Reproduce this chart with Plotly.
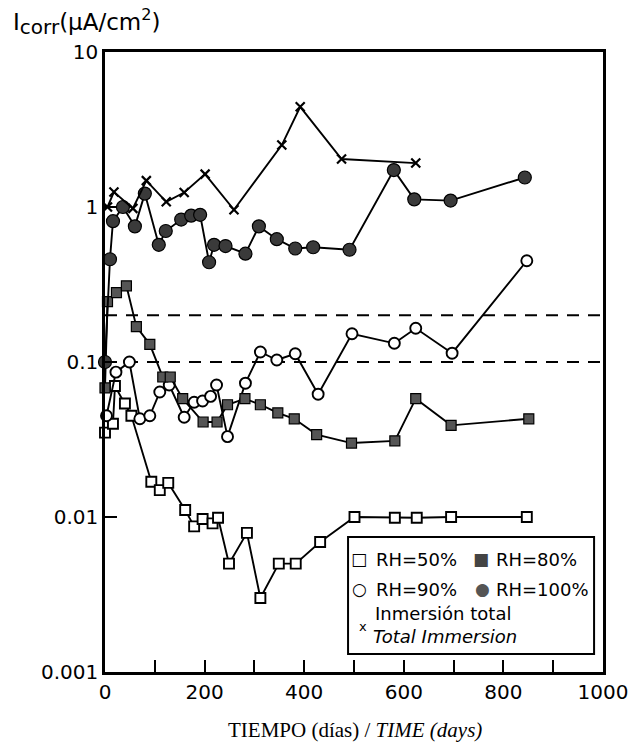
import plotly.graph_objects as go

# Corrosion current density vs. exposure time
ti_days = [5, 18, 56, 83, 123, 159, 201, 259, 355, 392, 475, 624]
ti_vals = [1.0, 1.25, 0.98, 1.48, 1.08, 1.24, 1.63, 0.96, 2.51, 4.43, 2.04, 1.92]

rh100_days = [0, 10, 16, 36, 60, 80, 108, 122, 153, 173, 191, 209, 219, 242, 282,
              309, 345, 382, 418, 491, 580, 621, 694, 843]
rh100_vals = [0.10, 0.46, 0.81, 1.0, 0.75, 1.22, 0.57, 0.70, 0.83, 0.88, 0.89, 0.44,
              0.57, 0.56, 0.50, 0.75, 0.62, 0.54, 0.55, 0.53, 1.73, 1.12, 1.10, 1.55]

rh80_days = [0, 5, 23, 43, 63, 90, 116, 131, 156, 197, 225, 246, 281, 312, 347, 380,
             425, 495, 582, 624, 695, 851]
rh80_vals = [0.068, 0.245, 0.28, 0.31, 0.169, 0.13, 0.080, 0.080, 0.058, 0.041, 0.041,
             0.053, 0.058, 0.053, 0.047, 0.043, 0.034, 0.030, 0.031, 0.058, 0.039, 0.043]

rh90_days = [3, 22, 49, 70, 90, 110, 129, 159, 179, 196, 212, 224, 246, 282, 312, 345,
             382, 428, 496, 581, 624, 697, 847]
rh90_vals = [0.045, 0.086, 0.10, 0.043, 0.045, 0.064, 0.071, 0.044, 0.055, 0.056, 0.060,
             0.071, 0.033, 0.073, 0.116, 0.103, 0.113, 0.062, 0.152, 0.132, 0.165, 0.114, 0.45]

rh50_days = [0, 16, 20, 40, 53, 93, 110, 127, 161, 179, 196, 216, 227, 249, 285, 312,
             349, 383, 432, 501, 582, 626, 695, 847]
rh50_vals = [0.035, 0.040, 0.070, 0.054, 0.045, 0.0169, 0.0149, 0.0166, 0.0111, 0.0087,
             0.0097, 0.0091, 0.0099, 0.0050, 0.0079, 0.0030, 0.0050, 0.0050, 0.0069,
             0.0100, 0.0099, 0.0099, 0.0100, 0.0100]

threshold_vals = [0.1, 0.2]

y_ticks = [0.001, 0.01, 0.1, 1, 10]
y_ticktext = ["0.001", "0.01", "0.1", "1", "10"]
x_ticks = [0, 200, 400, 600, 800, 1000]

fig = go.Figure()

# dashed reference levels
for tv in threshold_vals:
    fig.add_trace(go.Scatter(x=[0, 1000], y=[tv, tv], mode="lines",
                             line=dict(color="black", width=2, dash="12px,9px"),
                             hoverinfo="skip", showlegend=False))

line_style = dict(color="black", width=1.9)

fig.add_trace(go.Scatter(x=rh50_days, y=rh50_vals, mode="lines+markers", line=line_style,
                         marker=dict(symbol="square", size=10, color="white",
                                     line=dict(color="black", width=1.9)),
                         cliponaxis=False, showlegend=False))
fig.add_trace(go.Scatter(x=rh90_days, y=rh90_vals, mode="lines+markers", line=line_style,
                         marker=dict(symbol="circle", size=11, color="white",
                                     line=dict(color="black", width=1.9)),
                         cliponaxis=False, showlegend=False))
fig.add_trace(go.Scatter(x=rh80_days, y=rh80_vals, mode="lines+markers", line=line_style,
                         marker=dict(symbol="square", size=10, color="#555555",
                                     line=dict(color="black", width=1.2)),
                         cliponaxis=False, showlegend=False))
fig.add_trace(go.Scatter(x=rh100_days, y=rh100_vals, mode="lines+markers", line=line_style,
                         marker=dict(symbol="circle", size=13, color="#3a3a3a",
                                     line=dict(color="black", width=1.2)),
                         cliponaxis=False, showlegend=False))
fig.add_trace(go.Scatter(x=ti_days, y=ti_vals, mode="lines+markers", line=line_style,
                         marker=dict(symbol="x-thin", size=9, color="black",
                                     line=dict(color="black", width=2.2)),
                         cliponaxis=False, showlegend=False))

sans = "DejaVu Sans"


def px_x(p):
    return (p - 105) / 502


def px_y(p):
    return (672 - p) / 620


# legend box
fig.add_shape(type="rect", xref="paper", yref="paper",
              x0=px_x(350), x1=px_x(598), y0=px_y(654), y1=px_y(537),
              line=dict(color="black", width=2), fillcolor="white", layer="above")

legend_items = [
    ("□", 361, 559, "black"), ("RH=50%", 376, 559, None),
    ("■", 484, 559, "#444444"), ("RH=80%", 497, 559, None),
    ("○", 362, 589, "black"), ("RH=90%", 376, 589, None),
    ("●", 486, 589, "#555555"), ("RH=100%", 497, 589, None),
]
for txt, xp, yp, col in legend_items:
    if col is not None:
        fig.add_annotation(x=px_x(xp), y=px_y(yp), xref="paper", yref="paper",
                           text=txt, showarrow=False, xanchor="center", yanchor="middle",
                           font=dict(family=sans, size=17, color=col))
    else:
        fig.add_annotation(x=px_x(xp), y=px_y(yp), xref="paper", yref="paper",
                           text=txt, showarrow=False, xanchor="left", yanchor="middle",
                           font=dict(family=sans, size=18, color="black"))

fig.add_annotation(x=px_x(375), y=px_y(613), xref="paper", yref="paper",
                   text="Inmersión total", showarrow=False, xanchor="left",
                   yanchor="middle", font=dict(family=sans, size=18, color="black"))
fig.add_annotation(x=px_x(373), y=px_y(636), xref="paper", yref="paper",
                   text="<i>Total Immersion</i>", showarrow=False, xanchor="left",
                   yanchor="middle", font=dict(family=sans, size=18, color="black"))
fig.add_annotation(x=px_x(365), y=px_y(626), xref="paper", yref="paper",
                   text="x", showarrow=False, xanchor="center",
                   yanchor="middle", font=dict(family=sans, size=13, color="black"))

# axis titles
fig.add_annotation(x=px_x(10), y=px_y(22), xref="paper", yref="paper",
                   text="I<sub><span style='font-size:20px'>corr</span></sub>(µA/cm<sup>2</sup>)",
                   showarrow=False, xanchor="left", yanchor="middle",
                   font=dict(family=sans, size=23, color="black"))
fig.add_annotation(x=px_x(357), y=px_y(730), xref="paper", yref="paper",
                   text="TIEMPO (días) / <i>TIME (days)</i>", showarrow=False,
                   xanchor="center", yanchor="middle",
                   font=dict(family="Liberation Serif", size=21, color="black"))

fig.update_xaxes(range=[0, 1000], tickvals=x_ticks, ticks="inside", ticklen=12,
                 tickwidth=2, tickcolor="black", showline=True, linewidth=2.5,
                 linecolor="black", mirror=True, showgrid=False, zeroline=False,
                 minor=dict(dtick=100, ticks="inside", ticklen=12, tickwidth=2,
                            tickcolor="black", showgrid=False),
                 tickfont=dict(family=sans, size=20, color="black"))
fig.update_yaxes(type="log", range=[-3, 1], tickvals=y_ticks, ticktext=y_ticktext,
                 ticks="inside", ticklen=12, tickwidth=2, tickcolor="black",
                 showline=True, linewidth=2.5, linecolor="black", mirror=True,
                 showgrid=False, zeroline=False,
                 tickfont=dict(family=sans, size=20, color="black"))

fig.update_layout(width=640, height=746, margin=dict(l=105, r=33, t=52, b=74),
                  paper_bgcolor="white", plot_bgcolor="white", showlegend=False)

fig.write_html("out.html")
